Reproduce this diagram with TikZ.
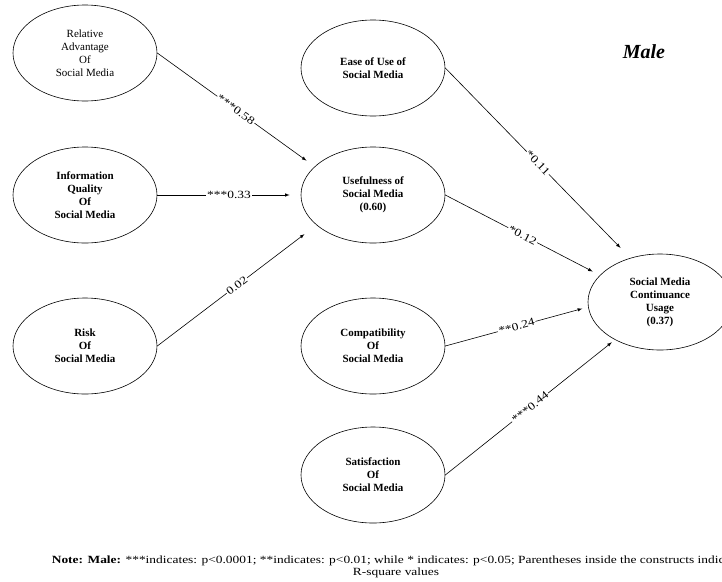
\documentclass[tikz,border=0pt]{standalone}
\usepackage{fontspec}
\setmainfont{Liberation Serif}
\newfontfamily\widefont[FakeStretch=1.22]{Liberation Serif}
\usetikzlibrary{arrows,shapes.geometric,positioning}

\begin{document}
\begin{tikzpicture}[x=1pt,y=-1pt,node distance=288pt,>=latex,line width=0.6pt]
    \tikzstyle{construct}=[ellipse,draw,minimum width=144pt,minimum height=96pt,inner sep=0pt,align=center,font=\fontsize{11}{13}\selectfont\bfseries]
    \tikzstyle{coef}=[fill=white,inner sep=1pt,sloped,font=\widefont\fontsize{11}{11}\selectfont]
    \useasboundingbox (0,0) rectangle (722,581);
    \clip (0,0) rectangle (722,581);

    \node[construct] (info) at (85,195) {Information\\Quality\\Of\\Social Media};
    \node[construct,font=\fontsize{11}{13}\selectfont,node distance=142pt] (adv) [above of=info] {Relative\\Advantage\\Of\\Social Media};
    \node[construct,node distance=151pt] (risk) [below of=info] {Risk\\Of\\Social Media};
    \node[construct] (useful) [right of=info] {Usefulness of\\Social Media\\(0.60)};
    \node[construct,node distance=127pt] (ease) [above of=useful] {Ease of Use of\\Social Media};
    \node[construct] (compat) [right of=risk] {Compatibility\\Of\\Social Media};
    \node[construct,node distance=129pt] (satis) [below of=compat] {Satisfaction\\Of\\Social Media};
    \node[construct] (usage) at (660,302) {Social Media\\Continuance\\Usage\\(0.37)};
    \node[font=\fontsize{20}{20}\selectfont\bfseries\itshape] (title) at (644,52) {Male};
    \path[->]
    (adv.east) edge [shorten >=10pt] node[coef] {***0.58} (useful.154)
    (info.east) edge [shorten >=11pt] node[coef] {***0.33} (useful.west)
    (risk.east) edge [shorten >=15pt] node[coef] {0.02} (useful.208)
    (ease.east) edge [shorten >=14pt] node[coef] {*0.11} (usage.124)
    (useful.east) edge [shorten >=8pt] node[coef] {*0.12} (usage.156)
    (compat.east) edge [shorten >=6pt] node[coef] {**0.24} (usage.184)
    (satis.east) edge [shorten >=4pt] node[coef] {***0.44} (usage.220);

    \node[align=center,font=\widefont\fontsize{11}{12}\selectfont] (note) at (396,567) {\textbf{Note: Male:} ***indicates: p<0.0001; **indicates: p<0.01; while * indicates: p<0.05; Parentheses inside the constructs indicate\\R-square values};
\end{tikzpicture}
\end{document}
